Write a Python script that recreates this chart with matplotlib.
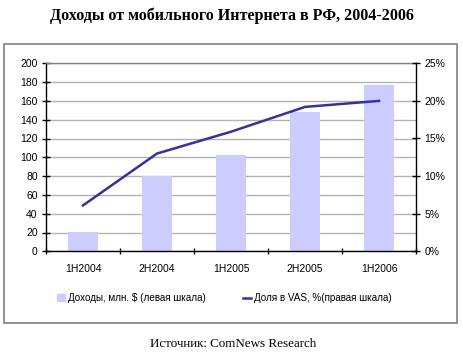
import matplotlib
matplotlib.use("Agg")
import matplotlib.pyplot as plt
from matplotlib.patches import Rectangle
from matplotlib.lines import Line2D
import numpy as np

categories = ["1H2004", "2H2004", "1H2005", "2H2005", "1H2006"]
revenue = [21, 80, 102, 148, 177]
vas_share = [6.1, 13.0, 15.9, 19.2, 20.0]
left_ticks = [0, 20, 40, 60, 80, 100, 120, 140, 160, 180, 200]
right_ticks = [0, 5, 10, 15, 20, 25]
right_labels = ["0%", "5%", "10%", "15%", "20%", "25%"]

title = "Доходы от мобильного Интернета в РФ, 2004-2006"
source = "Источник: ComNews Research"
bar_label = "Доходы, млн. $ (левая шкала)"
line_label = "Доля в VAS, %(правая шкала)"

plt.rcParams["font.family"] = ["Liberation Sans", "DejaVu Sans"]

fig = plt.figure(figsize=(4.63, 3.55), dpi=100)
fig.patch.set_facecolor("white")

# outer frame
fig.patches.append(Rectangle((4/463, 32/355), 453/463, 279/355, transform=fig.transFigure,
                             fill=False, edgecolor="#808080", linewidth=1.2, zorder=0))

ax = fig.add_axes([46/463, 103.7/355, 370/463, 188/355])
x = np.arange(len(categories))
ax.bar(x, revenue, width=0.41, color="#CCCCFF", zorder=2)
ax.set_ylim(0, 200)
ax.set_xlim(-0.5, len(categories) - 0.5)
ax.set_yticks(left_ticks)
ax.set_yticklabels([str(v) for v in left_ticks], fontsize=7.5)
ax.yaxis.grid(True, color="#b4b4b4", linewidth=1.0, zorder=0)
ax.set_axisbelow(True)
ax.set_xticks(x)
ax.set_xticklabels(categories, fontsize=7.5)
ax.set_xticks(np.arange(-0.5, len(categories) + 0.5, 1), minor=True)
ax.tick_params(axis="x", which="major", length=0, pad=9)
ax.tick_params(axis="x", which="minor", length=5, direction="inout", width=1)
ax.tick_params(axis="y", length=6, direction="inout", width=1, pad=3)
for s in ["left", "bottom"]:
    ax.spines[s].set_color("black")
    ax.spines[s].set_linewidth(1)
ax.spines["top"].set_color("#808080")
ax.spines["top"].set_linewidth(1)
ax.spines["right"].set_visible(False)

ax2 = ax.twinx()
ax2.plot(x, vas_share, color="#333399", linewidth=1.8, zorder=3)
ax2.set_ylim(0, 25)
ax2.set_yticks(right_ticks)
ax2.set_yticklabels(right_labels, fontsize=7.5)
ax2.tick_params(axis="y", length=6, direction="inout", width=1, pad=3)
ax2.spines["right"].set_color("black")
ax2.spines["right"].set_linewidth(1)
for s in ["left", "bottom", "top"]:
    ax2.spines[s].set_visible(False)

handles = [Rectangle((0, 0), 1, 1, color="#CCCCFF"),
           Line2D([0], [0], color="#333399", linewidth=1.8)]
fig.legend(handles, [bar_label, line_label], loc="center", bbox_to_anchor=(224/463, 57/355),
           ncol=2, frameon=False, fontsize=7.1, handlelength=0.8, handleheight=0.7,
           handletextpad=0.3, columnspacing=3.8)

fig.text(0.5, 1 - 16/355, title, ha="center", va="center", fontsize=11.6, fontweight="bold",
         family=["Liberation Serif", "DejaVu Serif"])
fig.text(233/463, 11/355, source, ha="center", va="center", fontsize=9.4,
         family=["Liberation Serif", "DejaVu Serif"])

fig.savefig("out.png", dpi=100)
